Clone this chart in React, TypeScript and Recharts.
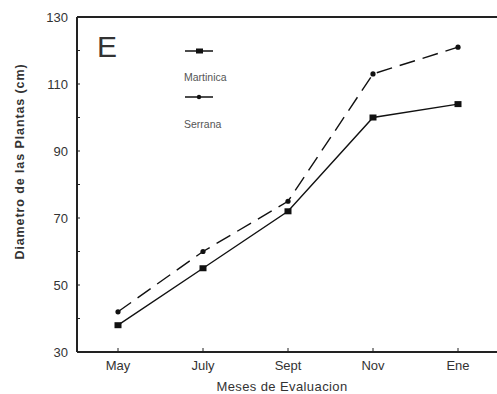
import { LineChart, Line, XAxis, YAxis, ReferenceLine } from "recharts";

const months = ["May", "July", "Sept", "Nov", "Ene"];
const martinica = [38, 55, 72, 100, 104];
const serrana = [42, 60, 75, 113, 121];
const yTicks = [30, 40, 50, 60, 70, 80, 90, 100, 110, 120, 130];

const data = months.map((m, i) => ({ month: m, martinica: martinica[i], serrana: serrana[i] }));

const FONT = "'Liberation Sans', Arial, sans-serif";
const INK = "#222";

const Square = (props: any) => {
  const { cx, cy } = props;
  if (cx == null || cy == null) return null;
  return <rect x={cx - 3.5} y={cy - 3} width={7} height={6} fill="#111" />;
};

const Dot = (props: any) => {
  const { cx, cy } = props;
  if (cx == null || cy == null) return null;
  return <circle cx={cx} cy={cy} r={2.6} fill="#111" />;
};

// legend drawn by hand, sits inside the plot like the original
const LegendBox = () => (
  <div
    style={{
      position: "absolute",
      left: 184,
      top: 47,
      fontFamily: FONT,
      fontSize: 10.5,
      color: "#555",
      lineHeight: 1,
    }}
  >
    <svg width={30} height={8} style={{ display: "block" }}>
      <line x1={1} y1={4} x2={29} y2={4} stroke="#111" strokeWidth={1.5} />
      <rect x={12} y={1.5} width={7} height={5} fill="#111" />
    </svg>
    <div style={{ marginTop: 17 }}>Martinica</div>
    <svg width={30} height={8} style={{ display: "block", marginTop: 10 }}>
      <line x1={1} y1={4} x2={29} y2={4} stroke="#111" strokeWidth={1.5} />
      <circle cx={15} cy={4} r={2.2} fill="#111" />
    </svg>
    <div style={{ marginTop: 18 }}>Serrana</div>
  </div>
);

export default function App() {
  return (
    <div style={{ position: "absolute", left: 0, top: 0, width: 497, height: 394, background: "#fff" }}>
      <LineChart width={497} height={394} data={data} margin={{ top: 17, right: 0, left: 0, bottom: 0 }}>
        <XAxis
          dataKey="month"
          height={42}
          padding={{ left: 41, right: 39 }}
          axisLine={{ stroke: INK, strokeWidth: 2 }}
          tickLine={{ stroke: INK, strokeWidth: 1 }}
          tickSize={-4}
          tickMargin={13}
          tick={{ fill: "#333", fontSize: 13, fontFamily: FONT }}
          label={{
            value: "Meses de Evaluacion",
            position: "insideBottom",
            offset: 3,
            dx: -5,
            style: { fill: "#333", fontSize: 13, letterSpacing: 0.4, fontFamily: FONT },
          }}
        />
        <YAxis
          width={77}
          domain={[30, 130]}
          ticks={yTicks}
          interval={0}
          tickFormatter={(v: number) => ((v - 30) % 20 === 0 ? String(v) : "")}
          axisLine={{ stroke: INK, strokeWidth: 2 }}
          tickLine={{ stroke: INK, strokeWidth: 1 }}
          tickSize={-3}
          tickMargin={12}
          tick={{ fill: "#333", fontSize: 13, fontFamily: FONT }}
          label={{
            value: "Diametro de las Plantas (cm)",
            angle: -90,
            position: "insideLeft",
            offset: 20,
            dy: -23,
            style: {
              fill: "#333",
              fontSize: 12.5,
              letterSpacing: 0.9,
              fontWeight: "bold",
              fontFamily: FONT,
              textAnchor: "middle",
            },
          }}
        />
        <ReferenceLine y={130} stroke={INK} strokeWidth={2} ifOverflow="extendDomain" />
        <Line
          type="linear"
          dataKey="martinica"
          name="Martinica"
          stroke="#111"
          strokeWidth={1.4}
          dot={<Square />}
          isAnimationActive={false}
        />
        <Line
          type="linear"
          dataKey="serrana"
          name="Serrana"
          stroke="#111"
          strokeWidth={1.4}
          strokeDasharray="16 8"
          dot={<Dot />}
          isAnimationActive={false}
        />
      </LineChart>
      <LegendBox />
      <div
        style={{
          position: "absolute",
          left: 97,
          top: 32,
          fontFamily: FONT,
          fontSize: 30,
          color: "#333",
          lineHeight: 1,
        }}
      >
        E
      </div>
    </div>
  );
}
